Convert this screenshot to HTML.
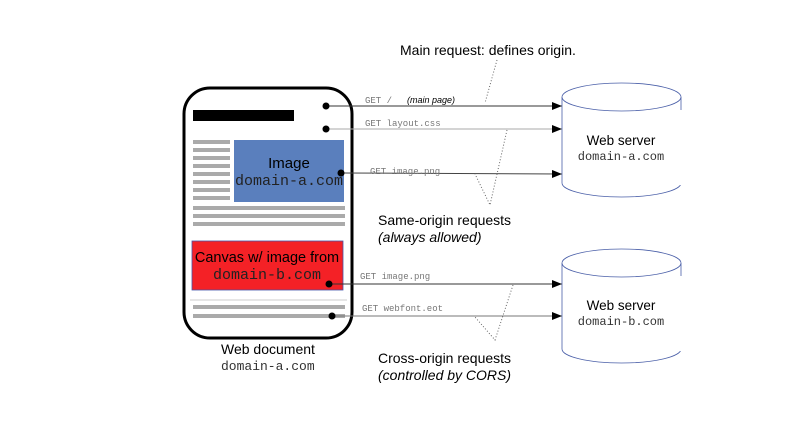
<!DOCTYPE html>
<html><head><style>body{margin:0;background:#fff}</style></head><body>
<svg width="791" height="430" xmlns="http://www.w3.org/2000/svg" font-family="Liberation Sans, sans-serif">
<defs><marker id="a" markerWidth="10" markerHeight="8" refX="10" refY="4" orient="auto" markerUnits="userSpaceOnUse"><path d="M0,0L10,4L0,8z" fill="#000"/></marker></defs>
<rect x="184" y="88" width="168" height="250" rx="26" fill="#fff" stroke="#000" stroke-width="3"/>
<rect x="193" y="110" width="101" height="11" fill="#000"/>
<g fill="#aaa">
<rect x="193" y="140" width="37" height="4"/><rect x="193" y="148" width="37" height="4"/><rect x="193" y="156" width="37" height="4"/><rect x="193" y="164" width="37" height="4"/><rect x="193" y="172" width="37" height="4"/><rect x="193" y="180" width="37" height="4"/><rect x="193" y="188" width="37" height="4"/><rect x="193" y="196" width="37" height="4"/>
<rect x="193" y="206" width="152" height="4"/><rect x="193" y="214" width="152" height="4"/><rect x="193" y="222" width="152" height="4"/>
<rect x="193" y="305" width="152" height="4"/><rect x="193" y="314" width="152" height="4"/>
</g>
<rect x="190" y="299" width="157" height="2" fill="#e6e6e6"/>
<rect x="234" y="140" width="110" height="62" fill="#5a7fbd"/>
<text x="289" y="168" font-size="15" text-anchor="middle">Image</text>
<text x="289" y="185" font-size="15" font-family="Liberation Mono, monospace" fill="#222" text-anchor="middle">domain-a.com</text>
<rect x="192" y="241" width="151" height="49" fill="#f42126" stroke="#4455aa" stroke-width="0.8"/>
<text x="267" y="262" font-size="14.5" text-anchor="middle">Canvas w/ image from</text>
<text x="267" y="279" font-size="15" font-family="Liberation Mono, monospace" fill="#222" text-anchor="middle">domain-b.com</text>
<g stroke-width="1" marker-end="url(#a)">
<line x1="326" y1="106" x2="562" y2="106" stroke="#333"/>
<line x1="326" y1="129" x2="562" y2="129" stroke="#aaa"/>
<line x1="341" y1="173" x2="562" y2="174" stroke="#444"/>
<line x1="329" y1="284" x2="562" y2="284" stroke="#333"/>
<line x1="332" y1="316" x2="562" y2="316" stroke="#777"/>
</g>
<g fill="#000"><circle cx="326" cy="106" r="3.5"/><circle cx="326" cy="129" r="3.5"/><circle cx="341" cy="173" r="3.5"/><circle cx="329" cy="284" r="3.5"/><circle cx="332" cy="316" r="3.5"/></g>
<g font-family="Liberation Mono, monospace" font-size="9" fill="#777">
<text x="365" y="103">GET /</text><text x="365" y="126">GET layout.css</text><text x="370" y="174">GET image.png</text><text x="360" y="279">GET image.png</text><text x="362" y="311">GET webfont.eot</text>
</g>
<text x="407" y="103" font-size="9" font-style="italic">(main page)</text>
<g stroke="#666" stroke-dasharray="1,2" fill="none">
<path d="M497,60L485,103"/><path d="M507,130L490,205L475,174"/><path d="M513,285L495,340L475,317"/>
</g>
<g font-size="14"><text x="400" y="55">Main request: defines origin.</text>
<text x="378" y="225">Same-origin requests</text><text x="378" y="242" font-style="italic">(always allowed)</text>
<text x="378" y="363">Cross-origin requests</text><text x="378" y="380" font-style="italic">(controlled by CORS)</text>
<text x="221" y="354">Web document</text></g>
<text x="221" y="370" font-size="13" font-family="Liberation Mono, monospace" fill="#333">domain-a.com</text>
<g fill="#fff" stroke="#4a5fa8" stroke-width="0.8">
<path d="M562,97V183A59.5,14,0,0,0,681,183V97"/><ellipse cx="621.5" cy="97" rx="59.5" ry="14"/>
<path d="M562,263V349A59.5,14,0,0,0,681,349V263"/><ellipse cx="621.5" cy="263" rx="59.5" ry="14"/>
</g>
<rect x="676" y="110" width="8" height="75" fill="#fff"/><rect x="676" y="276" width="8" height="75" fill="#fff"/>
<g text-anchor="middle"><text x="621" y="145" font-size="13.5">Web server</text><text x="621" y="160" font-size="12" font-family="Liberation Mono, monospace" fill="#333">domain-a.com</text>
<text x="621" y="310" font-size="13.5">Web server</text><text x="621" y="325" font-size="12" font-family="Liberation Mono, monospace" fill="#333">domain-b.com</text></g>
</svg>
</body></html>
